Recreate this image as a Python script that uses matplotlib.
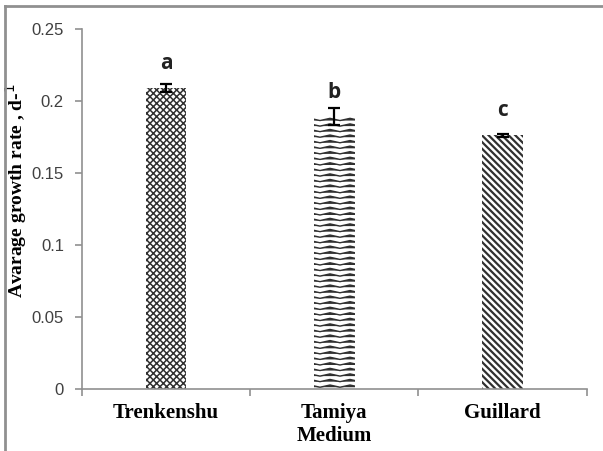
import warnings
import numpy as np
import matplotlib
matplotlib.use('Agg')
import matplotlib.pyplot as plt
import matplotlib.hatch as mhatch
from matplotlib.lines import Line2D
from matplotlib.path import Path

warnings.filterwarnings('ignore')

# growth rate per medium
media = ['Trenkenshu', 'Tamiya\nMedium', 'Guillard']
rates = [0.209, 0.189, 0.176]
errors = [0.003, 0.006, 0.001]
groups = ['a', 'b', 'c']
hatches = ['xxxxx', 'www', '\\\\\\\\\\']
hatch_lw = [1.1, 1.0, 1.6]


class WaveHatch(mhatch.HatchPatternBase):
    """horizontal zigzag lines, 'w' in the hatch string"""
    steps = 10

    def __init__(self, hatch, density):
        self.num_lines = int(hatch.count('w') * density)
        self.num_vertices = self.num_lines * (self.steps + 1)

    def set_vertices_and_codes(self, vertices, codes):
        xs = np.linspace(0, 1, self.steps + 1)
        amp = 0.2 / max(self.num_lines, 1)
        wave = amp * np.where(np.arange(self.steps + 1) % 2 == 0, -1, 1)
        n = self.steps + 1
        for k in range(self.num_lines):
            y0 = (k + 0.5) / self.num_lines
            vertices[k * n:(k + 1) * n, 0] = xs
            vertices[k * n:(k + 1) * n, 1] = y0 + wave
            codes[k * n] = Path.MOVETO
            codes[k * n + 1:(k + 1) * n] = Path.LINETO


mhatch._hatch_types.append(WaveHatch)

fig = plt.figure(figsize=(6.03, 4.51), dpi=100)
ax = fig.add_axes([0.136, 0.138, 0.837, 0.798])

x = [1, 2, 3]
for i in range(3):
    plt.rcParams['hatch.linewidth'] = hatch_lw[i]
    ax.bar(x[i], rates[i], width=0.24, color='white', edgecolor='#303030',
           linewidth=0, hatch=hatches[i])
ax.errorbar(x, rates, yerr=errors, fmt='none', ecolor='black',
            elinewidth=1.6, capsize=4, capthick=1.6)

for i in range(3):
    ax.text(x[i], rates[i] + 0.017, groups[i], ha='center', va='center',
            fontsize=15, fontweight='bold', family='Open Sans', color='#222222')

ax.set_xlim(0.5, 3.5)
ax.set_ylim(0, 0.25)
ax.set_yticks([0, 0.05, 0.1, 0.15, 0.2, 0.25])
ax.set_yticklabels(['0', '0.05', '0.1', '0.15', '0.2', '0.25'],
                   family='Liberation Sans', fontsize=12, color='#404040')

# boundary ticks below the axis, names centred under bars
ax.set_xticks([0.5, 1.5, 2.5, 3.5])
ax.set_xticklabels([])
ax.set_xticks(x, minor=True)
ax.set_xticklabels(media, minor=True, family='Liberation Serif',
                   fontsize=15, fontweight='bold', va='top')
ax.tick_params(axis='x', which='minor', length=0, pad=10)
ax.tick_params(axis='x', which='major', length=5, color='#909090', width=1.2)
ax.tick_params(axis='y', length=5, color='#909090', width=1.2, pad=8)

for s in ['top', 'right']:
    ax.spines[s].set_visible(False)
for s in ['left', 'bottom']:
    ax.spines[s].set_color('#909090')
    ax.spines[s].set_linewidth(1.2)

ax.set_ylabel('Avarage growth rate , d-$^{1}$', family='Liberation Serif',
              fontsize=14, fontweight='bold', labelpad=2)
ax.yaxis.set_label_coords(-0.105, 0.55)

# frame around the figure
fig.add_artist(Line2D([0.009, 0.009], [0, 0.986], transform=fig.transFigure,
                      color='#909090', linewidth=2))
fig.add_artist(Line2D([0.009, 1], [0.986, 0.986], transform=fig.transFigure,
                      color='#909090', linewidth=2))

fig.savefig('out.png', dpi=100)
